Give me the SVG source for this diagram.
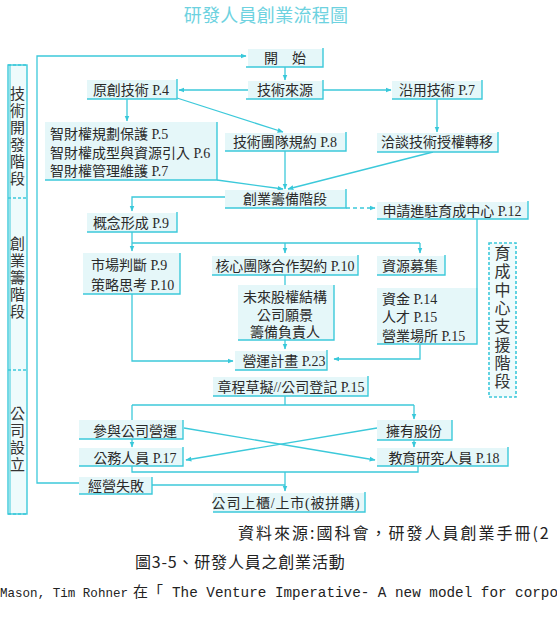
<svg xmlns="http://www.w3.org/2000/svg" width="557" height="618" viewBox="0 0 557 618">
<defs>
<marker id="arr" viewBox="0 0 10 10" refX="9" refY="5" markerWidth="6" markerHeight="6" orient="auto" markerUnits="userSpaceOnUse">
<path d="M0,1 L10,5 L0,9 z" fill="#38c8da"/>
</marker>
<style>
.box{fill:#e5f7f9;stroke:none}
.edge{fill:none;stroke:#3cc9da;stroke-width:1.4}
.t{font-family:"Liberation Serif","Noto Sans CJK TC",serif;font-size:14px;fill:#2a2a2a}
.c{text-anchor:middle}
.con path{fill:none;stroke:#3cc9da;stroke-width:1.3}
.arrow{marker-end:url(#arr)}
.phase{fill:#eefbfc;stroke:#3cc9da;stroke-width:1.4}
.dash{fill:none;stroke:#3cc9da;stroke-width:1.6;stroke-dasharray:3 2}
.pt{font-family:"Noto Sans CJK TC","Liberation Serif",serif;font-size:15px;fill:#333;writing-mode:vertical-rl;letter-spacing:2px}
.foot{font-family:"Noto Sans CJK TC","Liberation Sans",sans-serif;fill:#222}
</style>
</defs>
<rect width="557" height="618" fill="#ffffff"/>

<text x="266" y="22" font-family="Noto Sans CJK TC, sans-serif" font-size="18" fill="#6dd2e0" text-anchor="middle" letter-spacing="0.3">研發人員創業流程圖</text>

<!-- phase bars -->
<g id="phase-left">
<rect x="8" y="65" width="19" height="449" class="phase"/>
<line x1="10" y1="65" x2="10" y2="514" stroke="#3cc9da" stroke-width="1"/>
<line x1="8" y1="65" x2="27" y2="65" class="dash"/>
<line x1="8" y1="198" x2="27" y2="198" class="dash"/>
<line x1="8" y1="370" x2="27" y2="370" class="dash"/>
<line x1="8" y1="514" x2="27" y2="514" class="dash"/>
<text class="pt" x="17.5" y="85.5">技術開發階段</text>
<text class="pt" x="17.5" y="235.5">創業籌階段</text>
<text class="pt" x="17.5" y="405.5">公司設立</text>
</g>
<g id="phase-incubator">
<rect x="489" y="243" width="27" height="154" fill="#eefbfc" stroke="none"/>
<rect x="489" y="243" width="27" height="154" class="dash"/>
<text class="pt" x="502.5" y="245" style="font-size:16px;letter-spacing:2.3px">育成中心支援階段</text>
</g>

<!-- connectors -->
<g id="connectors" class="con">
<path class="arrow" d="M79,483 H37 V56 H246"/>
<path class="arrow" d="M285,67 V80"/>
<path class="arrow" d="M248,90 H179"/>
<path class="arrow" d="M323,90 H391"/>
<path class="arrow" d="M127,98 V121"/>
<path class="arrow" d="M177,98 L283,132"/>
<path class="arrow" d="M437,99 V132"/>
<path class="arrow" d="M217,180 L283,189"/>
<path class="arrow" d="M285,151 V189"/>
<path class="arrow" d="M433,152 L288,189"/>
<path class="arrow" d="M225,197 H132 V211"/>
<path class="arrow" d="M346,208 H375" stroke-dasharray="4 3"/>
<path class="arrow" d="M132,232 V251"/>
<path d="M132,243 H420"/>
<path class="arrow" d="M285,243 V253"/>
<path class="arrow" d="M420,243 V253"/>
<path d="M285,275 V285"/>
<path class="arrow" d="M285,340 V349"/>
<path class="arrow" d="M132,294 V361 H233"/>
<path class="arrow" d="M420,344 V359 H334"/>
<path d="M477,219 V288"/>
<path d="M285,396 V405"/>
<path d="M132,405 H414"/>
<path class="arrow" d="M414,405 V419"/>
<path d="M132,405 V420"/>
<path class="arrow" d="M132,439 V447"/>
<path class="arrow" d="M414,440 V447"/>
<path class="arrow" d="M184,428 L375,460"/>
<path class="arrow" d="M377,428 L186,460"/>
<path d="M132,466 V472 H418 V466"/>
<path class="arrow" d="M285,472 V491"/>
<path d="M152,485 H285"/>
</g>

<!-- nodes -->
<g id="n-start"><rect x="248" y="49" width="75" height="18" class="box"/><path class="edge" d="M246,67 H323 V48"/><text class="t c" x="285" y="63">開　始</text></g>
<g id="n-source"><rect x="248" y="81" width="75" height="18" class="box"/><path class="edge" d="M246,99 H323 V80"/><text class="t c" x="285" y="95">技術來源</text></g>
<g id="n-orig"><rect x="87" y="80" width="90" height="19" class="box"/><path class="edge" d="M87,99 H177 V79"/><text class="t c" x="131" y="95">原創技術 P.4</text></g>
<g id="n-reuse"><rect x="392" y="81" width="90" height="18" class="box"/><path class="edge" d="M392,99 H482 V80"/><text class="t c" x="437" y="95">沿用技術 P.7</text></g>
<g id="n-ip"><rect x="45" y="122" width="172" height="58" class="box"/><path class="edge" d="M45,180 H217 V122"/>
<text class="t"><tspan x="50" y="139">智財權規劃保護 P.5</tspan><tspan x="50" y="158">智財權成型與資源引入 P.6</tspan><tspan x="50" y="176">智財權管理維護 P.7</tspan></text></g>
<g id="n-team"><rect x="225" y="133" width="121" height="18" class="box"/><path class="edge" d="M225,151 H346 V132"/><text class="t c" x="285" y="147">技術團隊規約 P.8</text></g>
<g id="n-nego"><rect x="377" y="133" width="121" height="19" class="box"/><path class="edge" d="M377,152 H498 V132"/><text class="t c" x="437" y="147">洽談技術授權轉移</text></g>
<g id="n-prep"><rect x="225" y="190" width="121" height="18" class="box"/><path class="edge" d="M225,208 H346 V189"/><text class="t c" x="285" y="204">創業籌備階段</text></g>
<g id="n-apply"><rect x="377" y="202" width="151" height="17" class="box"/><path class="edge" d="M377,219 H528 V201"/><text class="t c" x="452" y="216">申請進駐育成中心 P.12</text></g>
<g id="n-concept"><rect x="87" y="213" width="90" height="19" class="box"/><path class="edge" d="M87,232 H177 V212"/><text class="t c" x="131" y="228">概念形成 P.9</text></g>
<g id="n-market"><rect x="83" y="253" width="97" height="41" class="box"/><path class="edge" d="M83,294 H180 V253"/>
<text class="t"><tspan x="91" y="270">市場判斷 P.9</tspan><tspan x="91" y="290">策略思考 P.10</tspan></text></g>
<g id="n-core"><rect x="212" y="256" width="146" height="19" class="box"/><path class="edge" d="M212,275 H358 V255"/><text class="t c" x="285" y="271">核心團隊合作契約 P.10</text></g>
<g id="n-resource"><rect x="377" y="256" width="68" height="19" class="box"/><path class="edge" d="M377,275 H445 V255"/><text class="t c" x="410" y="271">資源募集</text></g>
<g id="n-future"><rect x="238" y="285" width="96" height="55" class="box"/><path class="edge" d="M238,340 H334 V285"/>
<text class="t c"><tspan x="285" y="302">未來股權結構</tspan><tspan x="285" y="320">公司願景</tspan><tspan x="285" y="337">籌備負責人</tspan></text></g>
<g id="n-funds"><rect x="377" y="288" width="100" height="56" class="box"/><path class="edge" d="M377,344 H477 V288"/>
<text class="t"><tspan x="382" y="304">資金 P.14</tspan><tspan x="382" y="322">人才 P.15</tspan><tspan x="382" y="341">營業場所 P.15</tspan></text></g>
<g id="n-plan"><rect x="235" y="351" width="92" height="19" class="box"/><path class="edge" d="M235,370 H327 V350"/><text class="t c" x="284" y="366">營運計畫 P.23</text></g>
<g id="n-charter"><rect x="213" y="377" width="155" height="19" class="box"/><path class="edge" d="M213,396 H368 V376"/><text class="t c" x="291" y="392">章程草擬//公司登記 P.15</text></g>
<g id="n-join"><rect x="79" y="420" width="104" height="19" class="box"/><path class="edge" d="M79,439 H183 V420"/><text class="t c" x="135" y="436">參與公司營運</text></g>
<g id="n-civil"><rect x="79" y="448" width="104" height="18" class="box"/><path class="edge" d="M79,466 H183 V447"/><text class="t c" x="135" y="463">公務人員 P.17</text></g>
<g id="n-fail"><rect x="79" y="477" width="73" height="17" class="box"/><path class="edge" d="M79,494 H152 V477"/><text class="t c" x="116" y="491">經營失敗</text></g>
<g id="n-shares"><rect x="377" y="420" width="75" height="20" class="box"/><path class="edge" d="M377,440 H452 V420"/><text class="t c" x="414" y="436">擁有股份</text></g>
<g id="n-edu"><rect x="377" y="448" width="131" height="18" class="box"/><path class="edge" d="M377,466 H508 V447"/><text class="t c" x="444" y="463">教育研究人員 P.18</text></g>
<g id="n-ipo"><rect x="213" y="493" width="152" height="19" class="box"/><path class="edge" d="M213,512 H365 V492"/><text class="t c" x="286" y="508" letter-spacing="0.8">公司上櫃/上市(被拼購)</text></g>

<!-- footer -->
<text class="foot" x="238" y="539" font-size="16" letter-spacing="2">資料來源:國科會，研發人員創業手冊(2</text>
<text class="foot" x="135" y="568" font-size="16" letter-spacing="0.8">圖3-5、研發人員之創業活動</text>
<text x="0" y="597" font-family="Liberation Mono, monospace" font-size="13" fill="#222" textLength="128" lengthAdjust="spacingAndGlyphs">Mason, Tim Rohner</text>
<text class="foot" x="133" y="597" font-size="15">在「</text>
<text x="172" y="597" font-family="Liberation Mono, monospace" font-size="14" fill="#222" textLength="386" lengthAdjust="spacingAndGlyphs">The Venture Imperative- A new model for corpo</text>
</svg>
